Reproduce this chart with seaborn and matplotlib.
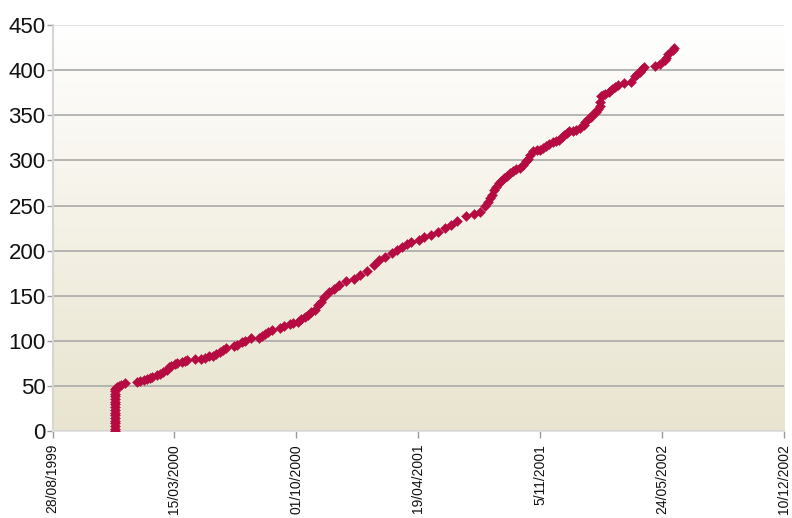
import numpy as np
import pandas as pd
import matplotlib
matplotlib.use("Agg")
import matplotlib.pyplot as plt
import matplotlib.dates as mdates
from matplotlib.colors import LinearSegmentedColormap
import seaborn as sns

# x values are days counted from the first tick date (28/08/1999)
start_date = "1999-08-28"
days = [
    102, 102, 102, 102, 102, 102, 102, 102, 102, 102, 102, 102, 102, 102, 102,
    103, 103, 104, 106, 109, 113, 119,
    139, 144, 150, 155, 160, 164, 171, 177, 182, 187, 191, 194, 201, 205, 213, 218, 221,
    233, 243, 250, 257, 263, 268, 274, 279, 284, 298, 303, 311, 315, 326, 338, 344, 349,
    354, 360, 373, 379, 389, 395, 403, 408, 414, 419, 424, 430, 435, 441, 446,
    454, 462, 470, 481, 494, 505, 516, 527, 535, 546, 557, 565, 573, 581, 588, 601, 610,
    621, 632, 643, 654, 664, 678, 691, 702, 710, 715, 718, 721,
    724, 728, 732, 735, 740, 745, 751, 756, 761, 767, 772, 776, 780, 784, 788, 794, 799,
    804, 810, 815, 821, 826, 831, 836, 839, 844, 848, 853, 858, 866, 871, 874, 879, 883,
    886, 891, 894, 898, 898, 899, 903, 907, 912, 918, 923, 928, 937, 949, 955, 959, 963,
    967, 971, 988, 996, 1004, 1006, 1010, 1017, 1019,
]
counts = [
    0, 3, 6, 9, 12, 15, 18, 21, 24, 27, 30, 33, 36, 39, 42,
    45, 47, 48, 49, 50, 52, 54,
    55, 56, 57, 58, 59, 60, 62, 64, 66, 68, 71, 72, 75, 76, 77, 78, 79,
    80, 80, 81, 83, 84, 86, 88, 90, 92, 95, 96, 99, 100, 103, 104, 106, 108,
    110, 112, 114, 117, 119, 120, 121, 124, 127, 129, 132, 135, 140, 143, 149,
    154, 158, 162, 166, 169, 173, 178, 184, 190, 193, 197, 201, 204, 207, 210, 212, 215,
    217, 221, 225, 228, 233, 238, 241, 243, 249, 254, 258, 262,
    267, 271, 275, 277, 280, 283, 286, 288, 290, 292, 295, 299, 302, 306, 310, 311, 312,
    314, 316, 318, 320, 321, 323, 326, 328, 330, 332, 333, 334, 336, 339, 343, 346, 348,
    351, 354, 357, 360, 365, 371, 372, 374, 376, 379, 381, 384, 386, 387, 393, 396, 398,
    401, 403, 404, 407, 411, 413, 418, 422, 424,
]

tick_dates = ["1999-08-28", "2000-03-15", "2000-10-01", "2001-04-19",
              "2001-11-05", "2002-05-24", "2002-12-10"]
tick_labels = ["28/08/1999", "15/03/2000", "01/10/2000", "19/04/2001",
               "5/11/2001", "24/05/2002", "10/12/2002"]
y_ticks = [0, 50, 100, 150, 200, 250, 300, 350, 400, 450]

df = pd.DataFrame({
    "date": pd.Timestamp(start_date) + pd.to_timedelta(days, unit="D"),
    "count": counts,
})

sns.set_style("white")
plt.rcParams["font.family"] = ["Liberation Sans", "DejaVu Sans"]

fig = plt.figure(figsize=(7.92, 5.18), dpi=100)
ax = fig.add_axes([0.0663, 0.167, 0.9237, 0.785])

sns.scatterplot(data=df, x="date", y="count", marker="D", s=26,
                color="#b50a42", edgecolor="#b50a42", linewidth=0.3,
                ax=ax, zorder=3)

tick_pos = mdates.date2num(pd.to_datetime(tick_dates))
x0, x1 = tick_pos[0], tick_pos[-1]

# soft beige gradient behind the plot
cmap = LinearSegmentedColormap.from_list("bg", ["#e8e4cf", "#f4f1e6", "#ffffff"])
grad = np.linspace(0, 1, 256).reshape(-1, 1)
ax.imshow(grad, extent=[x0, x1, 0, 450], origin="lower", aspect="auto",
          cmap=cmap, zorder=0)

ax.set_xlim(x0, x1)
ax.set_ylim(0, 450)
ax.set_yticks(y_ticks)
ax.set_xticks(tick_pos)
ax.set_xticklabels(tick_labels, rotation=90, va="top", ha="center")

ax.yaxis.grid(True, color="#a9a9a9", lw=1.2)
ax.xaxis.grid(False)
ax.get_ygridlines()[-1].set_color("#dcdcdc")

for side in ["top", "right"]:
    ax.spines[side].set_visible(False)
ax.spines["left"].set_color("#d5d5d5")
ax.spines["left"].set_linewidth(1.5)
ax.spines["bottom"].set_color("#dedede")
ax.spines["bottom"].set_linewidth(1.2)

ax.tick_params(axis="y", left=True, length=4, width=1, color="#999999",
               labelsize=16, labelcolor="#111111", pad=1)
ax.tick_params(axis="x", bottom=True, length=5, width=1, color="#999999",
               labelsize=10, labelcolor="#111111", pad=4)
ax.set_xlabel("")
ax.set_ylabel("")

fig.savefig("out.png", dpi=100)
